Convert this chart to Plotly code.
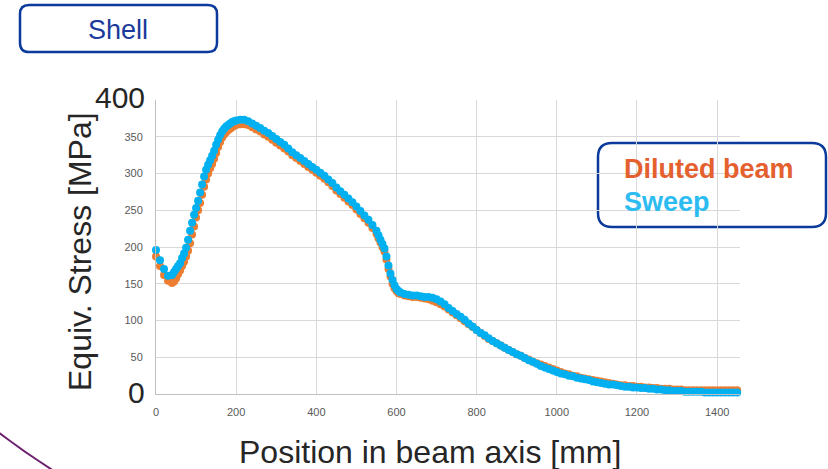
import plotly.graph_objects as go

# Position along the beam axis [mm]
position_mm = [
    0, 10, 20, 30, 40, 45, 50, 55, 60, 65, 70, 75, 80, 85, 90, 95, 100, 105, 110, 115,
    120, 125, 130, 135, 140, 145, 150, 155, 160, 165, 170, 175, 180, 185, 190, 195,
    200, 210, 220, 230, 240, 250, 260, 270, 280, 290, 300, 310, 320, 330, 340, 350, 360, 370, 380, 390,
    400, 410, 420, 430, 440, 450, 460, 470, 480, 490, 500, 510, 520, 530, 540, 550, 555, 560, 565, 570,
    575, 580, 585, 590, 595, 600, 605, 610, 620, 630, 640, 650, 660, 670, 680, 690, 700, 710, 720, 730,
    740, 750, 760, 770, 780, 790, 800, 810, 820, 830, 840, 850, 860, 870, 880, 890, 900, 910, 920, 930,
    940, 950, 960, 970, 980, 990, 1000, 1010, 1020, 1030, 1040, 1050, 1060, 1070, 1080, 1090, 1100, 1110, 1120, 1130,
    1140, 1150, 1160, 1170, 1180, 1190, 1200, 1210, 1220, 1230, 1240, 1250, 1260, 1270, 1280, 1290, 1300, 1310, 1320, 1330,
    1340, 1350, 1360, 1370, 1380, 1390, 1400, 1410, 1420, 1430, 1440, 1450,
]

# Equivalent stress [MPa], diluted beam model
diluted_beam = [
    187, 174, 162, 154, 151, 153, 157, 163, 168, 174, 180, 187, 195, 205, 217, 228, 240, 250, 260, 271,
    282, 292, 300, 307, 313, 320, 328, 336, 343, 349, 353, 356, 359, 361, 363, 365,
    366, 367, 367, 366, 363, 360, 357, 353, 350, 346, 342, 338, 334, 330, 325, 321, 317, 313, 309, 305,
    301, 297, 293, 288, 283, 277, 272, 267, 262, 257, 251, 245, 239, 233, 226, 218, 212, 206, 200, 194,
    183, 170, 160, 150, 144, 140, 137, 136, 134, 133, 132, 132, 131, 130, 129, 127, 125, 122, 119, 115,
    111, 107, 103, 99, 95, 91, 87, 83, 79, 75, 72, 69, 66, 63, 60, 57, 54, 52, 49, 47,
    44, 42, 40, 38, 36, 34, 32, 30, 28, 27, 25, 24, 22, 21, 20, 19, 18, 17, 16, 15,
    14, 13, 12, 12, 11, 11, 10, 10, 9, 9, 8, 8, 7, 7, 7, 6, 6, 6, 5, 5,
    5, 5, 5, 5, 5, 5, 5, 5, 5, 5, 5, 5,
]

# Equivalent stress [MPa], sweep model
sweep = [
    196, 182, 170, 161, 162, 166, 170, 174, 178, 185, 191, 199, 210, 222, 233, 244, 253, 263, 274, 285,
    296, 305, 312, 318, 324, 331, 339, 346, 352, 357, 361, 364, 366, 368, 370, 371,
    372, 373, 373, 371, 368, 365, 362, 358, 355, 351, 347, 343, 339, 334, 329, 325, 321, 317, 313, 309,
    305, 301, 297, 292, 287, 281, 276, 271, 266, 261, 255, 249, 243, 237, 230, 222, 216, 210, 204, 198,
    187, 175, 164, 155, 148, 143, 140, 138, 136, 135, 134, 134, 133, 132, 132, 131, 129, 126, 122, 117,
    113, 109, 105, 101, 96, 92, 87, 83, 80, 76, 72, 69, 66, 63, 60, 57, 54, 52, 49, 46,
    44, 41, 38, 36, 34, 32, 30, 28, 27, 25, 24, 22, 21, 20, 19, 17, 16, 15, 14, 13,
    13, 12, 11, 10, 10, 9, 9, 8, 8, 7, 7, 6, 6, 5, 5, 4, 4, 4, 3, 3,
    3, 3, 3, 2, 2, 2, 2, 2, 2, 2, 2, 2,
]

x_ticks = [0, 200, 400, 600, 800, 1000, 1200, 1400]
y_ticks = [0, 50, 100, 150, 200, 250, 300, 350, 400]
y_ticktext = ["", "50", "100", "150", "200", "250", "300", "350", ""]

ORANGE = "#ed7d31"
BLUE = "#00b0f0"
BOX_BLUE = "#0b3a9c"

FIG_W, FIG_H = 828, 469
ML, MR, MT, MB = 156, 88, 100, 75
PW = FIG_W - ML - MR
PH = FIG_H - MT - MB


def to_paper(px, py):
    return (px - ML) / PW, (FIG_H - MB - py) / PH


def rounded_box(x0, y0, x1, y1, r):
    pts = [
        ("M", [(x0 + r, y0)]),
        ("L", [(x1 - r, y0)]),
        ("Q", [(x1, y0), (x1, y0 + r)]),
        ("L", [(x1, y1 - r)]),
        ("Q", [(x1, y1), (x1 - r, y1)]),
        ("L", [(x0 + r, y1)]),
        ("Q", [(x0, y1), (x0, y1 - r)]),
        ("L", [(x0, y0 + r)]),
        ("Q", [(x0, y0), (x0 + r, y0)]),
    ]
    out = []
    for cmd, coords in pts:
        s = " ".join("%.5f,%.5f" % to_paper(px, py) for px, py in coords)
        out.append(cmd + " " + s)
    return " ".join(out) + " Z"


fig = go.Figure()
fig.add_trace(go.Scatter(
    x=position_mm, y=diluted_beam, mode="markers", name="Diluted beam",
    marker=dict(color=ORANGE, size=8, line=dict(width=0)), cliponaxis=False,
))
fig.add_trace(go.Scatter(
    x=position_mm, y=sweep, mode="markers", name="Sweep",
    marker=dict(color=BLUE, size=8, line=dict(width=0)), cliponaxis=False,
))

tick_font = dict(family="Liberation Sans, Arial, sans-serif", size=11, color="#595959")

fig.update_xaxes(
    range=[0, 1457], tickvals=x_ticks, showgrid=True, gridcolor="#d9d9d9", gridwidth=1,
    showline=True, linecolor="#bfbfbf", linewidth=1, zeroline=False, ticks="",
    tickfont=tick_font, ticklabelstandoff=8,
)
fig.update_yaxes(
    range=[0, 400], tickvals=y_ticks, ticktext=y_ticktext, showgrid=True,
    gridcolor="#d9d9d9", gridwidth=1, showline=True, linecolor="#bfbfbf", linewidth=1,
    zeroline=False, ticks="", tickfont=tick_font, ticklabelstandoff=10,
)

FONT = "Liberation Sans, Arial, sans-serif"
annotations = []

# large end values on the stress axis
for val, py in (("400", 97), ("0", 392)):
    ax, ay = to_paper(147, py)
    annotations.append(dict(
        text=val, x=ax, y=ay, xref="paper", yref="paper", xanchor="right", yanchor="middle",
        showarrow=False, font=dict(family=FONT, size=30, color="#262626"),
    ))

# axis titles
tx, ty = to_paper(430, 452)
annotations.append(dict(
    text="Position in beam axis [mm]", x=tx, y=ty, xref="paper", yref="paper",
    xanchor="center", yanchor="middle", showarrow=False,
    font=dict(family=FONT, size=32, color="#262626"),
))
tx, ty = to_paper(80, 252)
annotations.append(dict(
    text="Equiv. Stress [MPa]", x=tx, y=ty, xref="paper", yref="paper", textangle=-90,
    xanchor="center", yanchor="middle", showarrow=False,
    font=dict(family=FONT, size=32, color="#262626"),
))

# "Shell" label
tx, ty = to_paper(118, 30)
annotations.append(dict(
    text="Shell", x=tx, y=ty, xref="paper", yref="paper", xanchor="center", yanchor="middle",
    showarrow=False, font=dict(family=FONT, size=27, color="#1a3a9c"),
))

# series labels box
tx, ty = to_paper(622, 169)
annotations.append(dict(
    text="<b>Diluted beam</b>", x=tx, y=ty, xref="paper", yref="paper", xanchor="left",
    yanchor="middle", showarrow=False, font=dict(family=FONT, size=27, color="#e4602e"),
))
tx, ty = to_paper(622, 202)
annotations.append(dict(
    text="<b>Sweep</b>", x=tx, y=ty, xref="paper", yref="paper", xanchor="left",
    yanchor="middle", showarrow=False, font=dict(family=FONT, size=27, color="#2cbcf2"),
))

shapes = [
    dict(type="path", xref="paper", yref="paper", path=rounded_box(20, 5, 217, 52, 9),
         line=dict(color=BOX_BLUE, width=2.5), fillcolor="white", layer="above"),
    dict(type="path", xref="paper", yref="paper", path=rounded_box(598, 143, 826, 227, 14),
         line=dict(color=BOX_BLUE, width=2.5), fillcolor="rgba(255,255,255,0)", layer="below"),
]
# decorative arc in the lower-left corner
p0 = to_paper(-2, 432)
p1 = to_paper(24, 452)
p2 = to_paper(54, 471)
shapes.append(dict(
    type="path", xref="paper", yref="paper",
    path="M %.5f,%.5f Q %.5f,%.5f %.5f,%.5f" % (p0 + p1 + p2),
    line=dict(color="#6b1f6e", width=2),
))

fig.update_layout(
    width=FIG_W, height=FIG_H, showlegend=False,
    margin=dict(l=ML, r=MR, t=MT, b=MB, autoexpand=False),
    paper_bgcolor="white", plot_bgcolor="white",
    annotations=annotations, shapes=shapes,
)

fig.write_html("out.html")
